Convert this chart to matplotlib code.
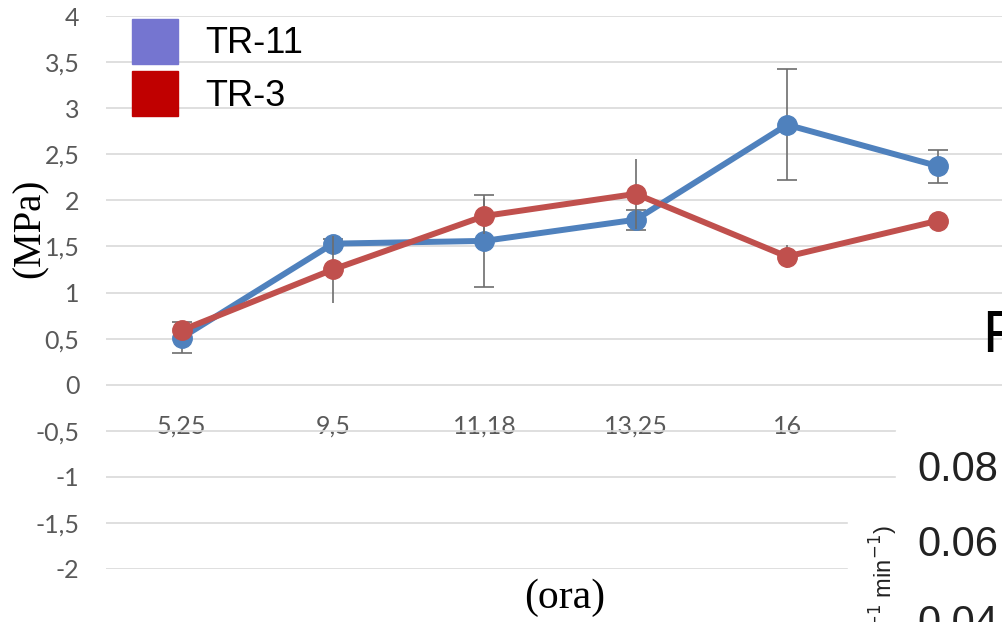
import matplotlib
matplotlib.use("Agg")
import matplotlib.pyplot as plt
from matplotlib.patches import Patch, Rectangle

# data
categories = ['5,25', '9,5', '11,18', '13,25', '16', '']
tr11 = [0.51, 1.53, 1.56, 1.79, 2.82, 2.37]
tr11_err = [0.17, 0.05, 0.50, 0.11, 0.60, 0.18]
tr3 = [0.59, 1.25, 1.83, 2.07, 1.39, 1.78]
tr3_err = [0.08, 0.36, 0.20, 0.38, 0.12, 0.08]
yticks = [-2, -1.5, -1, -0.5, 0, 0.5, 1, 1.5, 2, 2.5, 3, 3.5, 4]
ytick_labels = ['-2', '-1,5', '-1', '-0,5', '0', '0,5', '1', '1,5', '2', '2,5', '3', '3,5', '4']

W, H = 1002, 622
fig = plt.figure(figsize=(W / 100, H / 100), dpi=100)
ax = fig.add_axes([106 / W, (H - 569) / H, 1 - 106 / W, (569 - 16) / H])

x = list(range(len(categories)))

ax.errorbar(x, tr11, yerr=tr11_err, color='#4F81BD', lw=4.3, marker='o', ms=14,
            ecolor='#6d6d6d', elinewidth=1.2, capsize=7, capthick=1.2, zorder=3)
ax.errorbar(x, tr3, yerr=tr3_err, color='#C0504D', lw=4.3, marker='o', ms=14,
            ecolor='#6d6d6d', elinewidth=1.2, capsize=0, zorder=4)

ax.set_xlim(-0.5, 5.42)
ax.set_ylim(-2, 4)
ax.set_yticks(yticks)
ax.set_yticklabels(ytick_labels)
ax.set_xticks(x)
ax.set_xticklabels(categories)
ax.grid(axis='y', color='#d9d9d9', lw=1.2)
ax.set_axisbelow(True)
for s in ax.spines.values():
    s.set_visible(False)
ax.spines['bottom'].set_position(('data', 0))
ax.tick_params(length=0)
ax.tick_params(axis='y', pad=19, labelsize=18, labelcolor='#595959')
ax.tick_params(axis='x', pad=21.5, labelsize=18, labelcolor='#595959')
for lab in ax.get_xticklabels() + ax.get_yticklabels():
    lab.set_family(['Lato', 'DejaVu Sans'])

fig.text(30 / W, 1 - 228 / H, '(MPa)', rotation=90, ha='center', va='center',
         family='Liberation Serif', fontsize=28)
fig.text(565 / W, 1 - 598 / H, '(ora)', ha='center', va='center',
         family='Liberation Serif', fontsize=30)

handles = [Patch(color='#7575D0'), Patch(color='#C00000')]
fig.legend(handles, ['TR-11', 'TR-3'], loc='upper left',
           bbox_to_anchor=(132 / W, 1 - 19 / H), bbox_transform=fig.transFigure,
           frameon=False, prop={'family': 'Liberation Sans', 'size': 26},
           handlelength=1.27, handleheight=1.54, handletextpad=0.75,
           labelspacing=0.2, borderpad=0, borderaxespad=0)

# pieces of the neighbouring figure pasted over the corner
fig.add_artist(Rectangle((896 / W, 0), 1, (H - 430) / H, transform=fig.transFigure,
                         color='white', zorder=5))
fig.add_artist(Rectangle((848 / W, 0), 1, (H - 500) / H, transform=fig.transFigure,
                         color='white', zorder=5))
fig.text(982 / W, 1 - 337 / H, 'F', ha='left', va='center', family='Liberation Sans',
         fontsize=43, zorder=6)
fig.text(917 / W, 1 - 470 / H, '0.08', ha='left', va='center', family='Liberation Sans',
         fontsize=30, color='#222222', zorder=6)
fig.text(917 / W, 1 - 545 / H, '0.06', ha='left', va='center', family='Liberation Sans',
         fontsize=30, color='#222222', zorder=6)
fig.text(917 / W, 1 - 624 / H, '0.04', ha='left', va='center', family='Liberation Sans',
         fontsize=30, color='#222222', zorder=6)
fig.text(884 / W, 1 - 525 / H, '$^{-1}$ min$^{-1}$)', rotation=90, ha='center', va='top',
         family='Liberation Sans', fontsize=17, color='#222222', zorder=6)

fig.savefig('out.png', dpi=100)
